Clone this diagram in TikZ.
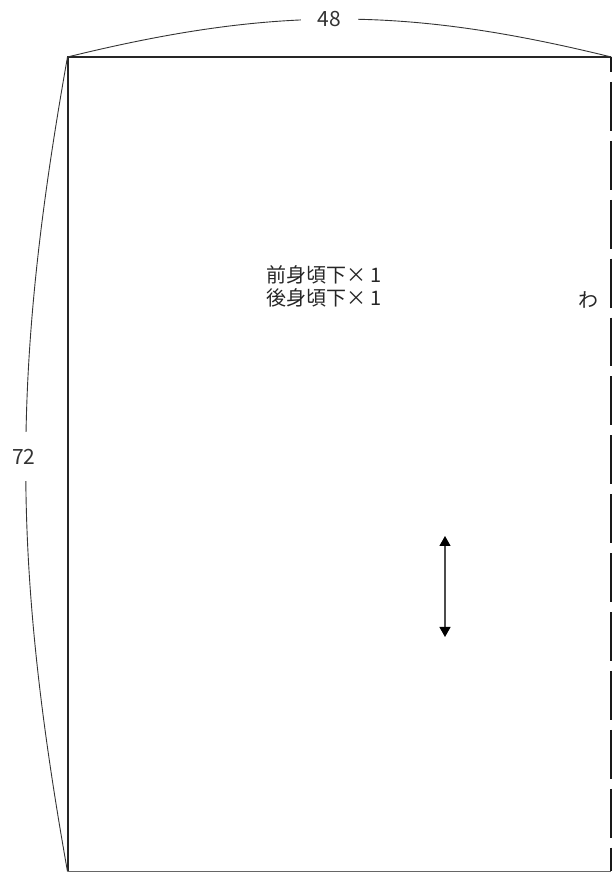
\documentclass[tikz,border=0pt]{standalone}
\usepackage{fontspec}
\setmainfont{Noto Sans CJK JP}
\usetikzlibrary{arrows.meta}

\begin{document}
\begin{tikzpicture}[x=1pt,y=1pt,
  dimline/.style={line width=0.9pt,black!80},
  dimlabel/.style={fill=white,font=\fontsize{21}{25}\selectfont,text=black!80}]
\useasboundingbox (0,0) rectangle (612,873);

%--------------------------------------------------- corners
\coordinate (tl) at (67.5,816);
\coordinate (tr) at (611.2,816);
\coordinate (bl) at (67.5,1.5);
\coordinate (br) at (611.2,1.5);

%--------------------------------------------------- outline
\draw[line width=1.3pt,black!60] (bl) -- (br);
\draw[line width=2pt,black!85] (tr) -- (tl) -- (bl);
\draw[line width=1.6pt,black!90,dash pattern=on 48.9pt off 10pt,dash phase=33.9pt] (tr) -- (br);

%--------------------------------------------------- dimensions
\draw[dimline] (tl) to[bend left=13.8]
  node[dimlabel,pos=0.48,inner xsep=17pt,inner ysep=2pt] (w) {48} (tr);
\draw[dimline] (tl) to[bend right=10.1]
  node[dimlabel,pos=0.49,inner xsep=2pt,inner ysep=17pt,xshift=-2pt] (h) {72} (bl);

%--------------------------------------------------- texts
\node[font=\fontsize{20}{23}\selectfont,align=center,text=black!85] (parts) at (324,586.5)
  {前身頃下× 1\\後身頃下× 1};
\node[font=\fontsize{20}{23}\selectfont,text=black!85] (wa) at (588,573) {わ};

%--------------------------------------------------- grain line
\coordinate (gtop) at (445,337);
\coordinate (gbot) at (445,236);
\draw[line width=1.2pt,black!70,{Triangle[length=10pt,width=11pt,color=black]}-{Triangle[length=10pt,width=11pt,color=black]}] (gtop) -- (gbot);

\end{tikzpicture}
\end{document}
